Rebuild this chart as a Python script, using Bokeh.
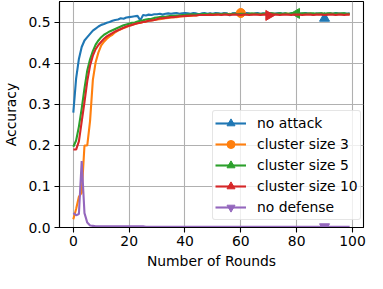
import math
from bokeh.plotting import figure
from bokeh.models import (ColumnDataSource, FixedTicker, PrintfTickFormatter,
                          Legend, LegendItem, Range1d)
from bokeh.embed import file_html
from bokeh.resources import INLINE

rounds = list(range(100))

no_attack = [
    0.280, 0.363, 0.411, 0.440, 0.456, 0.464, 0.472, 0.480, 0.485, 0.490,
    0.494, 0.496, 0.499, 0.501, 0.504, 0.506, 0.507, 0.510, 0.509, 0.512,
    0.513, 0.514, 0.515, 0.516, 0.505, 0.518, 0.517, 0.519, 0.518, 0.520,
    0.520, 0.521, 0.519, 0.521, 0.522, 0.521, 0.522, 0.523, 0.521, 0.522,
    0.523, 0.522, 0.521, 0.523, 0.522, 0.520, 0.522, 0.523, 0.521, 0.522,
    0.521, 0.523, 0.522, 0.521, 0.523, 0.522, 0.517, 0.522, 0.523, 0.521,
    0.522, 0.521, 0.523, 0.522, 0.520, 0.522, 0.523, 0.521, 0.522, 0.521,
    0.523, 0.522, 0.521, 0.522, 0.523, 0.521, 0.522, 0.520, 0.522, 0.523,
    0.521, 0.522, 0.521, 0.523, 0.522, 0.521, 0.519, 0.522, 0.521, 0.522,
    0.510, 0.521, 0.522, 0.521, 0.523, 0.522, 0.521, 0.522, 0.521, 0.522,
]

cluster_3 = [
    0.020, 0.045, 0.075, 0.085, 0.200, 0.200, 0.260, 0.360, 0.403, 0.427,
    0.444, 0.453, 0.460, 0.466, 0.470, 0.476, 0.480, 0.483, 0.486, 0.489,
    0.492, 0.494, 0.496, 0.498, 0.499, 0.501, 0.502, 0.504, 0.505, 0.506,
    0.507, 0.508, 0.509, 0.510, 0.511, 0.512, 0.513, 0.513, 0.514, 0.515,
    0.515, 0.516, 0.516, 0.517, 0.517, 0.518, 0.518, 0.519, 0.518, 0.519,
    0.520, 0.519, 0.520, 0.520, 0.521, 0.520, 0.521, 0.520, 0.521, 0.522,
    0.523, 0.521, 0.520, 0.521, 0.520, 0.521, 0.520, 0.521, 0.520, 0.521,
    0.520, 0.521, 0.521, 0.520, 0.521, 0.520, 0.521, 0.521, 0.520, 0.521,
    0.521, 0.520, 0.521, 0.520, 0.521, 0.521, 0.520, 0.521, 0.520, 0.521,
    0.521, 0.520, 0.521, 0.521, 0.520, 0.521, 0.520, 0.521, 0.520, 0.520,
]

cluster_5 = [
    0.197, 0.212, 0.246, 0.290, 0.339, 0.383, 0.410, 0.430, 0.446, 0.456,
    0.464, 0.470, 0.474, 0.478, 0.481, 0.484, 0.487, 0.490, 0.493, 0.495,
    0.497, 0.499, 0.500, 0.502, 0.504, 0.505, 0.507, 0.508, 0.509, 0.511,
    0.512, 0.513, 0.514, 0.514, 0.515, 0.516, 0.516, 0.517, 0.517, 0.518,
    0.518, 0.519, 0.519, 0.520, 0.519, 0.520, 0.520, 0.521, 0.520, 0.521,
    0.520, 0.521, 0.521, 0.520, 0.521, 0.521, 0.520, 0.521, 0.521, 0.520,
    0.521, 0.521, 0.520, 0.521, 0.522, 0.521, 0.521, 0.520, 0.521, 0.522,
    0.521, 0.522, 0.521, 0.521, 0.522, 0.521, 0.522, 0.521, 0.522, 0.522,
    0.522, 0.521, 0.522, 0.522, 0.521, 0.522, 0.522, 0.521, 0.522, 0.522,
    0.521, 0.522, 0.522, 0.521, 0.522, 0.521, 0.522, 0.522, 0.521, 0.521,
]

cluster_10 = [
    0.190, 0.190, 0.210, 0.258, 0.306, 0.357, 0.395, 0.419, 0.435, 0.445,
    0.453, 0.460, 0.466, 0.470, 0.474, 0.478, 0.481, 0.484, 0.487, 0.490,
    0.492, 0.494, 0.496, 0.498, 0.499, 0.501, 0.502, 0.504, 0.505, 0.506,
    0.508, 0.510, 0.510, 0.511, 0.512, 0.513, 0.513, 0.514, 0.515, 0.515,
    0.516, 0.516, 0.517, 0.517, 0.517, 0.518, 0.518, 0.518, 0.518, 0.519,
    0.518, 0.519, 0.519, 0.518, 0.519, 0.519, 0.518, 0.519, 0.519, 0.519,
    0.518, 0.519, 0.519, 0.518, 0.519, 0.519, 0.519, 0.518, 0.519, 0.519,
    0.517, 0.519, 0.519, 0.519, 0.518, 0.519, 0.519, 0.519, 0.518, 0.519,
    0.519, 0.519, 0.518, 0.519, 0.519, 0.519, 0.518, 0.519, 0.519, 0.519,
    0.518, 0.519, 0.519, 0.519, 0.518, 0.519, 0.519, 0.518, 0.519, 0.519,
]

no_defense = [
    0.035, 0.030, 0.033, 0.162, 0.035, 0.012, 0.005, 0.004, 0.003, 0.003,
    0.003, 0.003, 0.003, 0.003, 0.003, 0.003, 0.003, 0.003, 0.003, 0.003,
    0.003, 0.003, 0.003, 0.003, 0.003, 0.003, 0.002, 0.002, 0.002, 0.002,
    0.002, 0.002, 0.002, 0.002, 0.002, 0.002, 0.002, 0.002, 0.002, 0.002,
    0.002, 0.002, 0.002, 0.002, 0.002, 0.002, 0.002, 0.002, 0.002, 0.002,
    0.002, 0.002, 0.002, 0.002, 0.002, 0.002, 0.002, 0.002, 0.002, 0.002,
    0.002, 0.002, 0.002, 0.002, 0.002, 0.002, 0.002, 0.002, 0.002, 0.002,
    0.002, 0.002, 0.002, 0.002, 0.002, 0.002, 0.002, 0.002, 0.002, 0.002,
    0.002, 0.002, 0.002, 0.002, 0.002, 0.002, 0.002, 0.002, 0.002, 0.002,
    0.002, 0.002, 0.002, 0.002, 0.002, 0.002, 0.002, 0.002, 0.002, 0.002,
]

labels = ["no attack", "cluster size 3", "cluster size 5", "cluster size 10", "no defense"]
series = [no_attack, cluster_3, cluster_5, cluster_10, no_defense]
marker_rounds = [90, 60, 80, 70, 90]
colors = ["#1f77b4", "#ff7f0e", "#2ca02c", "#d62728", "#9467bd"]
markers = ["triangle", "circle", "triangle", "triangle", "inverted_triangle"]
angles = [0.0, 0.0, math.pi / 2, -math.pi / 2, 0.0]
msizes = [10, 9, 10, 10, 10]

x_ticks = [0, 20, 40, 60, 80, 100]
y_ticks = [0.0, 0.1, 0.2, 0.3, 0.4, 0.5]

FONT = "DejaVu Sans"
FS = "13.9px"

p = figure(width=367, height=273, output_backend="svg", toolbar_location=None,
           x_range=Range1d(-4.95, 103.95), y_range=Range1d(0.0, 0.551),
           min_border_left=53, min_border_right=4, min_border_top=1,
           min_border_bottom=46)

p.outline_line_color = "black"
p.outline_line_width = 1.1
p.background_fill_color = "white"
p.border_fill_color = "white"

for ax in (p.xaxis[0], p.yaxis[0]):
    ax.axis_line_color = "black"
    ax.axis_line_width = 1.1
    ax.major_tick_line_color = "black"
    ax.major_tick_line_width = 1.1
    ax.major_tick_out = 5
    ax.major_tick_in = 0
    ax.minor_tick_line_color = None
    ax.major_label_text_font = FONT
    ax.major_label_text_font_size = FS
    ax.major_label_text_color = "black"
    ax.axis_label_text_font = FONT
    ax.axis_label_text_font_size = FS
    ax.axis_label_text_font_style = "normal"
    ax.axis_label_text_color = "black"

p.xaxis.ticker = FixedTicker(ticks=x_ticks)
p.yaxis.ticker = FixedTicker(ticks=y_ticks)
p.yaxis.formatter = PrintfTickFormatter(format="%.1f")
p.xaxis.axis_label = "Number of Rounds"
p.yaxis.axis_label = "Accuracy"
p.xaxis.major_label_standoff = 3
p.yaxis.major_label_standoff = 4
p.xaxis.axis_label_standoff = 4
p.yaxis.axis_label_standoff = 6

for g in (p.xgrid[0], p.ygrid[0]):
    g.grid_line_color = "#b0b0b0"
    g.grid_line_width = 1.1

items = []
for lab, ys, mr, col, mk, ang, ms in zip(labels, series, marker_rounds, colors,
                                         markers, angles, msizes):
    src = ColumnDataSource(dict(x=rounds, y=ys))
    lr = p.line("x", "y", source=src, line_color=col, line_width=2.1)
    msrc = ColumnDataSource(dict(x=[rounds[mr]], y=[ys[mr]]))
    sr = p.scatter("x", "y", source=msrc, marker=mk, size=ms, angle=ang,
                   fill_color=col, line_color=col)
    items.append(LegendItem(label=lab, renderers=[lr, sr]))

legend = Legend(items=items, location=(153, 7), margin=0, padding=2,
                spacing=1, glyph_width=31, glyph_height=20, label_height=20,
                label_standoff=11, label_text_font=FONT,
                label_text_font_size=FS, label_text_color="black",
                border_line_color="#cccccc", border_line_width=1,
                background_fill_color="white", background_fill_alpha=0.8)
if "border_radius" in Legend.properties():
    legend.border_radius = 3
p.add_layout(legend, "center")

open("out.html", "w").write(file_html(p, INLINE))
